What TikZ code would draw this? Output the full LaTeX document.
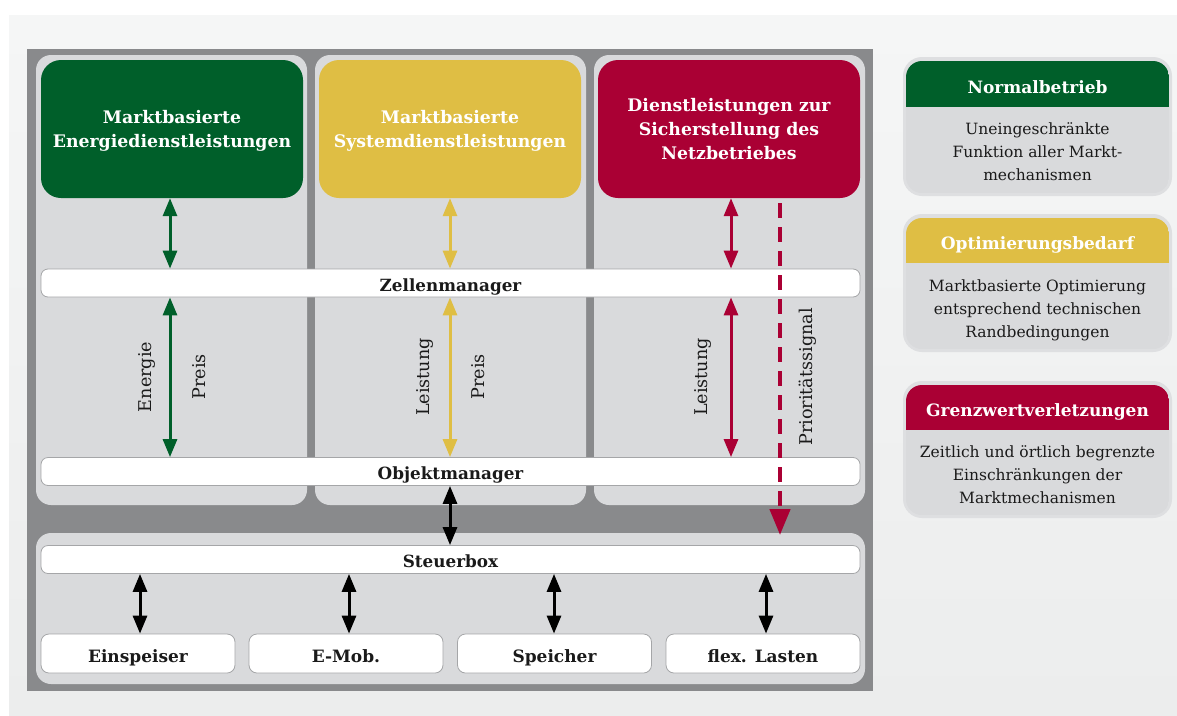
\documentclass[tikz,border=0pt]{standalone}
\usepackage{fontspec}
\setmainfont{DejaVu Serif}
\usetikzlibrary{arrows.meta}
\definecolor{cgreen}{HTML}{005F2A}
\definecolor{cyellow}{HTML}{DFBE44}
\definecolor{cred}{HTML}{AA0034}
\definecolor{cframe}{HTML}{898A8C}
\definecolor{cpanel}{HTML}{D9DADC}
\definecolor{cring}{HTML}{DEDFE1}
\definecolor{cbar}{HTML}{A5A6A8}
\definecolor{cbgtop}{HTML}{F5F6F6}
\definecolor{cbgbot}{HTML}{ECEDED}
\definecolor{ctext}{HTML}{1A1A1A}
\tikzset{
  panel/.style={fill=cpanel, draw=none, rounded corners=15pt, inner sep=0pt},
  topbox/.style={draw=none, rounded corners=20pt, inner sep=0pt, minimum width=262pt, minimum height=138pt, text=white, align=center, text depth=0pt, font=\fontsize{17.3}{24}\selectfont\bfseries},
  bar/.style={fill=white, draw=cbar, line width=0.8pt, rounded corners=7pt, inner sep=0pt, minimum width=819pt, minimum height=28pt, text height=16pt, text depth=0pt, font=\fontsize{16.8}{18}\selectfont\bfseries, text=ctext},
  unit/.style={fill=white, draw=cbar, line width=0.8pt, rounded corners=8pt, inner sep=0pt, minimum width=194pt, minimum height=39pt, text height=17pt, text depth=0pt, font=\fontsize{17}{18}\selectfont\bfseries, text=ctext},
  dbl/.style={line width=3pt, {Triangle[width=14pt,length=18pt]}-{Triangle[width=14pt,length=18pt]}},
  vlabel/.style={rotate=90, inner sep=0pt, font=\fontsize{17.6}{18}\selectfont, text=ctext},
  lhead/.style={inner sep=0pt, text=white, text height=16pt, text depth=0pt, font=\fontsize{17}{18}\selectfont\bfseries},
  lbody/.style={inner sep=0pt, align=center, text=ctext, text depth=0pt, font=\fontsize{15.5}{23}\selectfont},
}
\begin{document}
\begin{tikzpicture}[x=1pt,y=-1pt]
\useasboundingbox (0,0) rectangle (1177,715);
\fill[white] (0,0) rectangle (1177,715);
\shade[top color=cbgtop, bottom color=cbgbot] (9,15) rectangle (1177,715);
% frame
\fill[cframe] (27,49) rectangle (873,691);
% column panels
\node[panel, minimum width=271pt, minimum height=450pt] (p1) at (171.5,280) {};
\node[panel, minimum width=271pt, minimum height=450pt] (p2) at (450.5,280) {};
\node[panel, minimum width=271pt, minimum height=450pt] (p3) at (729.5,280) {};
\node[panel, minimum width=829pt, minimum height=151pt] (pb) at (450.5,608.5) {};
% top boxes
\node[topbox, fill=cgreen] (g) at (172,129) {Marktbasierte\\Energiedienstleistungen};
\node[topbox, fill=cyellow] (y) at (450,129) {Marktbasierte\\Systemdienstleistungen};
\node[topbox, fill=cred] (r) at (729,129) {Dienstleistungen zur\\Sicherstellung des\\Netzbetriebes};
% bars
\node[bar] (zm) at (450.5,283) {Zellenmanager};
\node[bar] (om) at (450.5,471.5) {Objektmanager};
\node[bar] (sb) at (450.5,559.5) {Steuerbox};
% units
\node[unit] (u1) at (138,653.5) {Einspeiser};
\node[unit] (u2) at (346,653.5) {E-Mob.};
\node[unit] (u3) at (554.5,653.5) {Speicher};
\node[unit] (u4) at (763,653.5) {flex. Lasten};
% arrow columns
\coordinate (xg) at (170,0);
\coordinate (xy) at (450,0);
\coordinate (xr) at (731,0);
\coordinate (xd) at (780,0);
\coordinate (x1) at (140,0);
\coordinate (x2) at (349,0);
\coordinate (x3) at (554,0);
\coordinate (x4) at (766,0);
\coordinate (dend) at (780,535);
% arrows
\draw[dbl, cgreen] (g.south -| xg) -- (zm.north -| xg);
\draw[dbl, cgreen] (zm.south -| xg) -- (om.north -| xg);
\draw[dbl, cyellow] (y.south -| xy) -- (zm.north -| xy);
\draw[dbl, cyellow] (zm.south -| xy) -- (om.north -| xy);
\draw[dbl, cred] (r.south -| xr) -- (zm.north -| xr);
\draw[dbl, cred] (zm.south -| xr) -- (om.north -| xr);
\draw[dbl, black] (om.south -| xy) -- (sb.north -| xy);
\draw[dbl, black] (sb.south -| x1) -- (u1.north -| x1);
\draw[dbl, black] (sb.south -| x2) -- (u2.north -| x2);
\draw[dbl, black] (sb.south -| x3) -- (u3.north -| x3);
\draw[dbl, black] (sb.south -| x4) -- (u4.north -| x4);
\draw[cred, line width=4.5pt, dash pattern=on 15pt off 9pt, -{Triangle[width=20pt,length=26pt]}] ([yshift=-5pt]r.south -| xd) -- (dend);
% labels
\node[vlabel] (le) at (147,377) {Energie};
\node[vlabel] (lp1) at (199,377) {Preis};
\node[vlabel] (ll1) at (425,377) {Leistung};
\node[vlabel] (lp2) at (478,377) {Preis};
\node[vlabel] (ll2) at (703,377) {Leistung};
\node[vlabel] (lps) at (808,377) {Prioritätssignal};
% legend boxes
\foreach \t/\b/\h/\c in {57/196/107/cgreen, 214/352/263/cyellow, 381/518/430/cred}{
  \fill[cring, rounded corners=19pt] (903,\t) rectangle (1172,\b);
  \begin{scope}
    \clip[rounded corners=16pt] (906,\t+4) rectangle (1169,\b-3);
    \fill[cpanel] (906,\t+4) rectangle (1169,\b-3);
    \fill[\c] (906,\t+4) rectangle (1169,\h);
  \end{scope}
}
\node[lhead] (h1) at (1037.5,85) {Normalbetrieb};
\node[lbody] (b1) at (1037.5,152) {Uneingeschränkte\\Funktion aller Markt-\\mechanismen};
\node[lhead] (h2) at (1037.5,241) {Optimierungsbedarf};
\node[lbody] (b2) at (1037.5,309) {Marktbasierte Optimierung\\entsprechend technischen\\Randbedingungen};
\node[lhead] (h3) at (1037.5,408) {Grenzwertverletzungen};
\node[lbody] (b3) at (1037.5,475) {Zeitlich und örtlich begrenzte\\Einschränkungen der\\Marktmechanismen};
\end{tikzpicture}
\end{document}
